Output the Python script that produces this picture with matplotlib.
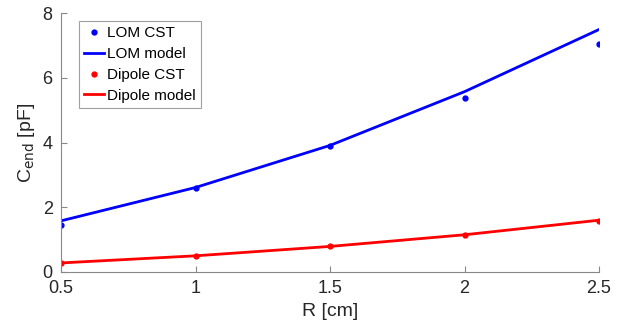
import matplotlib.pyplot as plt

plt.rcParams["font.family"] = ["Liberation Sans", "DejaVu Sans"]

r = [0.5, 1.0, 1.5, 2.0, 2.5]
lom_cst = [1.44, 2.59, 3.89, 5.38, 7.04]
lom_model = [1.58, 2.61, 3.91, 5.57, 7.49]
dip_cst = [0.28, 0.50, 0.79, 1.14, 1.58]
dip_model = [0.28, 0.50, 0.79, 1.15, 1.60]

fig = plt.figure(figsize=(6.39, 3.28), dpi=100)
ax = fig.add_axes([61 / 639, 1 - 272 / 328, 538 / 639, 259 / 328])

ax.plot(r, lom_cst, "o", color="#0000ff", markersize=3.5, label="LOM CST")
ax.plot(r, lom_model, "-", color="#0000ff", linewidth=2, label="LOM model")
ax.plot(r, dip_cst, "o", color="#ff0000", markersize=3.5, label="Dipole CST")
ax.plot(r, dip_model, "-", color="#ff0000", linewidth=2, label="Dipole model")

ax.set_xlim(0.5, 2.5)
ax.set_ylim(0, 8)
ax.set_xticks([0.5, 1, 1.5, 2, 2.5])
ax.set_xticklabels(["0.5", "1", "1.5", "2", "2.5"])
ax.set_yticks([0, 2, 4, 6, 8])

for side in ["top", "right"]:
    ax.spines[side].set_visible(False)
for side in ["left", "bottom"]:
    ax.spines[side].set_color("#888888")
ax.tick_params(direction="in", length=4, color="#888888", labelsize=13,
               labelcolor="#262626", pad=6)

ax.set_xlabel("R [cm]", fontsize=14, color="#262626")
ax.set_ylabel(r"C$_{\mathrm{end}}$ [pF]", fontsize=14, color="#262626")

leg = ax.legend(loc="upper left", bbox_to_anchor=(0.033, 0.97), fontsize=11,
                fancybox=False, edgecolor="#888888", handlelength=1.3,
                handletextpad=0.2, borderpad=0.35, labelspacing=0.45,
                borderaxespad=0)
leg.get_frame().set_linewidth(0.8)

fig.savefig("out.png", dpi=100)
